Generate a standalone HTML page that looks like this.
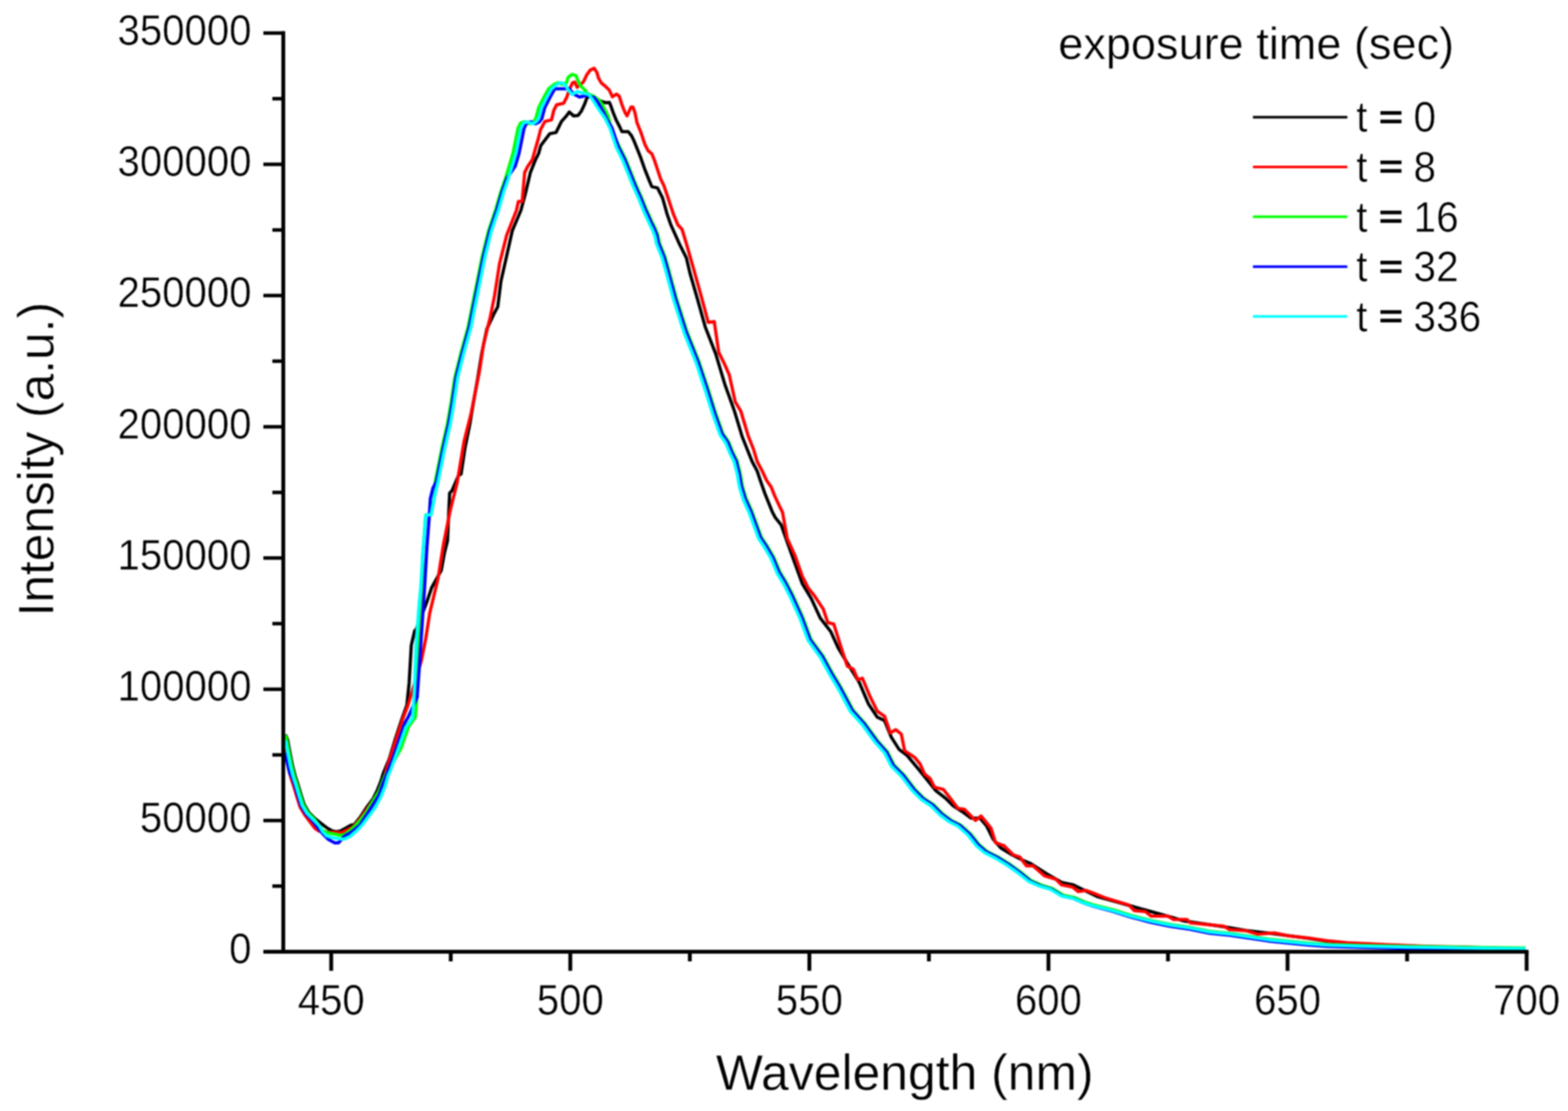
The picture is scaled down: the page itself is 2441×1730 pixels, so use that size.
<!DOCTYPE html>
<html><head><meta charset="utf-8"><title>Emission spectra</title>
<style>html,body{margin:0;padding:0;background:#fff;} svg{display:block;filter:blur(1px);}</style>
</head><body>
<svg width="2441" height="1730" viewBox="0 0 2441 1730">
<rect width="2441" height="1730" fill="#ffffff"/>
<g fill="none" stroke-width="5" stroke-linejoin="round" stroke-linecap="butt">
<path stroke="#000000" d="M444.5,1144.0 L447.7,1152.0 L450.6,1168.0 L455.5,1193.0 L459.7,1209.0 L463.7,1221.0 L468.6,1237.5 L473.5,1252.9 L480.9,1265.2 L490.1,1274.4 L499.3,1281.6 L505.4,1286.5 L511.6,1290.8 L517.7,1293.9 L523.9,1295.1 L530.0,1293.9 L539.3,1289.0 L545.4,1285.3 L551.6,1284.0 L555.9,1278.5 L560.3,1273.2 L570.5,1257.6 L580.7,1244.0 L587.4,1230.5 L592.8,1216.9 L596.9,1203.4 L605.9,1182.0 L615.0,1152.0 L624.8,1122.0 L633.4,1097.9 L636.9,1063.4 L640.3,1004.8 L645.5,982.4 L648.0,980.0 L664.6,937.0 L672.0,915.0 L687.0,888.0 L691.7,862.0 L696.7,842.0 L698.5,800.0 L700.0,767.7 L703.5,764.3 L714.0,740.0 L717.8,738.2 L723.7,698.8 L731.6,659.4 L737.0,627.0 L743.9,588.0 L750.0,550.0 L758.0,512.0 L768.5,489.7 L774.9,477.6 L779.8,438.2 L788.7,398.8 L797.5,359.4 L810.9,327.6 L818.8,298.0 L825.7,268.5 L833.6,248.8 L838.5,239.0 L842.0,226.4 L856.0,208.1 L865.5,206.4 L869.0,199.5 L874.1,189.1 L881.0,181.4 L886.2,174.5 L893.1,180.5 L900.0,179.7 L905.2,172.8 L910.3,161.6 L913.8,152.1 L920.0,149.0 L928.0,153.0 L936.0,158.0 L943.5,160.0 L948.5,159.4 L950.3,163.1 L954.6,175.4 L959.6,187.7 L964.5,197.0 L968.2,205.0 L978.0,205.0 L983.0,211.1 L986.6,218.5 L989.1,224.6 L997.0,244.3 L1003.9,264.0 L1011.8,283.7 L1014.7,290.6 L1023.6,292.6 L1031.5,308.4 L1038.4,333.0 L1044.3,350.0 L1057.4,379.3 L1068.5,401.5 L1074.0,425.0 L1086.1,466.8 L1097.8,508.9 L1114.2,551.0 L1128.2,597.8 L1143.3,640.0 L1149.3,659.7 L1155.2,679.4 L1163.0,699.1 L1170.9,718.8 L1178.8,733.6 L1183.7,748.4 L1190.6,768.1 L1198.5,787.8 L1202.5,797.6 L1207.0,806.0 L1216.1,817.4 L1230.2,857.2 L1248.9,908.7 L1262.9,932.0 L1277.0,962.5 L1293.3,983.5 L1305.0,1009.2 L1319.1,1032.6 L1337.8,1063.0 L1351.8,1095.8 L1365.8,1116.8 L1377.0,1122.0 L1387.6,1148.0 L1399.7,1167.0 L1411.7,1175.9 L1429.0,1196.6 L1442.8,1213.8 L1456.6,1231.0 L1472.0,1243.0 L1484.0,1255.0 L1498.0,1263.8 L1511.7,1274.0 L1525.5,1274.0 L1535.9,1286.2 L1546.2,1306.9 L1558.3,1320.7 L1575.5,1331.0 L1592.8,1339.7 L1604.8,1344.8 L1629.0,1360.3 L1653.1,1374.1 L1670.0,1377.6 L1708.0,1396.0 L1737.0,1404.0 L1783.0,1417.0 L1826.0,1429.0 L1843.0,1434.0 L1870.0,1438.0 L1905.0,1443.0 L1940.0,1449.0 L1983.0,1454.0 L2036.0,1461.0 L2066.5,1465.5 L2097.1,1468.5 L2158.1,1471.5 L2219.2,1474.0 L2280.3,1475.2 L2341.4,1476.8 L2375.0,1477.2"/>
<path stroke="#ff0000" d="M444.5,1156.0 L444.5,1172.0 L449.3,1197.0 L453.5,1213.0 L457.5,1225.0 L462.4,1241.5 L467.3,1256.9 L474.7,1269.2 L490.0,1289.6 L496.2,1293.9 L509.0,1295.5 L527.0,1296.4 L531.9,1296.4 L549.8,1287.7 L560.0,1276.0 L570.5,1261.0 L580.7,1247.0 L587.4,1237.3 L597.6,1213.6 L601.0,1200.0 L605.9,1184.1 L626.6,1120.3 L635.2,1097.9 L640.3,1080.7 L655.9,1029.0 L662.8,994.5 L669.0,954.7 L681.9,900.9 L690.5,847.0 L701.3,793.1 L711.7,751.7 L722.5,687.0 L733.3,644.0 L746.2,579.3 L752.7,536.2 L763.4,493.1 L770.0,460.0 L777.7,410.4 L788.8,366.1 L804.0,327.6 L807.0,313.8 L812.9,313.8 L816.8,268.5 L821.8,258.7 L828.7,248.8 L838.5,214.3 L841.4,202.0 L848.3,189.1 L858.6,186.6 L862.1,171.9 L866.4,163.3 L877.6,160.7 L882.8,150.3 L886.0,140.0 L891.4,128.8 L894.8,127.9 L898.5,136.0 L903.4,131.4 L908.0,128.0 L913.8,115.9 L919.0,109.0 L925.0,106.4 L929.3,113.0 L931.8,121.8 L936.2,129.2 L942.3,134.2 L948.5,140.3 L953.4,150.8 L959.6,146.5 L963.9,149.6 L968.2,163.1 L973.1,175.4 L976.2,180.3 L982.3,166.8 L985.4,166.8 L988.5,175.4 L991.6,190.8 L997.7,206.2 L999.0,209.9 L1003.9,224.6 L1008.8,234.5 L1014.7,239.4 L1018.7,249.3 L1023.6,264.0 L1028.5,278.8 L1033.4,288.7 L1038.4,303.4 L1043.3,318.2 L1048.2,333.0 L1055.2,350.0 L1061.8,357.2 L1068.5,379.3 L1079.0,416.0 L1093.2,466.8 L1102.5,501.9 L1111.9,500.7 L1118.9,548.7 L1128.2,567.4 L1135.3,583.7 L1144.6,625.8 L1153.2,640.0 L1159.1,659.7 L1165.0,679.4 L1172.9,699.1 L1178.8,718.8 L1186.7,733.6 L1193.6,748.4 L1200.5,758.2 L1206.4,773.0 L1213.3,787.8 L1218.2,797.6 L1225.5,838.5 L1237.2,864.2 L1248.9,897.0 L1258.2,915.7 L1267.6,927.4 L1281.6,948.4 L1288.7,969.5 L1298.0,971.8 L1309.7,1009.2 L1319.1,1037.3 L1328.4,1042.0 L1335.4,1058.4 L1342.5,1056.0 L1354.2,1084.1 L1365.8,1107.5 L1377.2,1115.5 L1385.9,1141.4 L1394.5,1136.2 L1403.1,1143.1 L1408.3,1169.0 L1423.8,1179.3 L1432.4,1189.7 L1439.3,1205.2 L1447.9,1212.1 L1454.8,1225.9 L1468.6,1229.3 L1480.7,1244.8 L1491.0,1258.6 L1501.4,1260.3 L1511.7,1270.7 L1518.6,1277.6 L1527.2,1270.7 L1542.8,1289.7 L1549.7,1312.1 L1563.4,1317.2 L1577.2,1331.0 L1587.6,1334.5 L1597.9,1348.3 L1608.3,1348.3 L1626.2,1363.8 L1643.6,1369.0 L1652.4,1377.7 L1669.8,1381.2 L1678.5,1388.2 L1690.8,1386.5 L1704.7,1391.7 L1722.2,1398.7 L1739.6,1403.9 L1757.1,1409.1 L1765.8,1417.9 L1783.2,1419.6 L1792.0,1426.6 L1818.2,1426.6 L1826.9,1431.8 L1847.8,1431.8 L1853.1,1437.1 L1870.5,1438.8 L1905.4,1442.3 L1914.1,1447.5 L1940.3,1449.3 L1957.8,1454.5 L1983.9,1452.8 L2005.4,1457.3 L2036.0,1460.4 L2066.5,1464.9 L2097.1,1468.0 L2158.1,1471.0 L2219.2,1473.5 L2280.3,1474.7 L2341.4,1476.5 L2375.0,1477.2"/>
<path stroke="#00ff00" d="M444.5,1145.0 L446.5,1152.5 L449.4,1168.5 L454.3,1193.5 L458.5,1209.5 L462.5,1221.5 L467.4,1238.0 L472.3,1253.4 L479.7,1265.7 L488.9,1274.9 L502.0,1293.0 L508.0,1296.0 L514.7,1297.6 L522.0,1299.0 L530.0,1301.0 L537.0,1299.0 L545.0,1293.0 L552.0,1287.0 L560.0,1278.0 L570.5,1264.4 L580.7,1247.4 L590.0,1232.0 L597.0,1213.0 L602.0,1203.0 L607.7,1195.0 L624.2,1165.4 L636.2,1130.9 L646.6,1117.1 L648.8,1088.5 L650.0,1061.5 L652.2,1003.1 L657.3,935.5 L659.5,913.5 L657.8,869.0 L662.5,805.0 L662.9,801.7 L671.1,801.7 L675.4,778.0 L677.4,750.0 L679.8,738.2 L687.7,698.8 L696.6,659.4 L702.0,627.6 L707.9,588.2 L717.7,548.8 L728.6,509.4 L736.4,470.0 L742.8,438.2 L750.7,398.8 L760.5,359.4 L772.0,325.0 L779.8,298.0 L786.7,278.4 L792.6,258.7 L798.5,239.0 L802.5,219.3 L806.4,199.6 L810.4,191.7 L816.3,189.7 L824.2,192.7 L830.1,189.7 L834.0,184.8 L838.6,167.6 L845.5,153.8 L854.1,138.3 L862.7,131.4 L868.8,128.8 L874.8,131.4 L882.0,128.8 L884.5,120.2 L890.5,115.9 L896.6,117.6 L900.0,126.2 L903.4,133.1 L910.3,140.0 L913.8,145.2 L925.0,150.3 L933.6,157.2 L937.9,163.3 L942.2,171.9 L946.6,180.5 L953.4,206.4 L964.1,228.1 L973.9,247.8 L981.8,267.5 L989.7,287.2 L998.5,306.9 L1006.4,326.6 L1015.3,346.3 L1020.2,356.1 L1024.2,366.5 L1026.4,377.8 L1035.3,400.0 L1040.5,418.5 L1053.2,465.3 L1069.6,516.7 L1088.3,563.5 L1102.3,605.6 L1114.0,643.1 L1125.7,675.8 L1134.1,687.8 L1140.5,703.5 L1147.4,717.3 L1152.3,737.0 L1155.7,756.7 L1161.6,776.4 L1170.5,796.1 L1185.5,837.0 L1194.5,850.5 L1204.5,867.5 L1214.4,891.1 L1224.2,907.4 L1234.1,926.5 L1243.9,948.3 L1249.5,960.5 L1262.7,996.0 L1281.5,1021.8 L1295.5,1047.5 L1309.5,1070.9 L1328.2,1106.0 L1347.0,1127.0 L1365.7,1152.8 L1381.7,1170.9 L1392.1,1191.6 L1407.6,1207.1 L1424.8,1229.5 L1438.6,1243.3 L1454.2,1253.7 L1467.9,1267.5 L1481.7,1277.8 L1495.5,1284.7 L1511.1,1298.5 L1524.8,1315.7 L1536.9,1326.1 L1554.2,1334.7 L1571.1,1345.1 L1588.0,1357.2 L1605.0,1371.0 L1620.8,1378.1 L1637.9,1383.4 L1655.1,1393.9 L1672.1,1397.4 L1689.3,1404.8 L1701.8,1408.8 L1731.8,1416.5 L1761.7,1425.7 L1791.8,1433.4 L1822.2,1439.5 L1852.7,1444.1 L1883.3,1450.2 L1913.8,1453.2 L1944.3,1457.8 L1974.9,1462.4 L2005.4,1465.5 L2036.0,1468.5 L2066.5,1470.7 L2127.6,1472.5 L2188.7,1473.7 L2249.8,1474.6 L2310.9,1475.5 L2375.0,1476.2"/>
<path stroke="#0000ff" d="M444.5,1172.0 L447.0,1187.0 L451.0,1204.0 L455.0,1211.0 L459.0,1223.0 L463.9,1239.5 L468.8,1254.9 L476.2,1267.2 L485.4,1276.4 L496.2,1291.0 L503.0,1299.0 L511.6,1307.4 L520.8,1312.4 L527.0,1312.4 L536.2,1302.0 L545.4,1297.0 L553.0,1291.0 L560.0,1285.0 L570.5,1269.0 L580.7,1253.0 L590.0,1238.0 L597.0,1218.0 L603.0,1203.0 L612.0,1180.0 L622.0,1150.0 L630.0,1126.0 L635.8,1116.0 L649.4,1085.8 L652.8,1038.4 L659.5,937.0 L661.0,915.0 L664.6,852.3 L668.0,808.3 L670.0,776.0 L674.0,760.0 L679.4,750.0 L681.8,738.2 L689.7,698.8 L698.6,659.4 L704.0,627.6 L709.9,588.2 L719.7,548.8 L730.6,509.4 L738.4,470.0 L744.8,438.2 L752.7,398.8 L762.5,359.4 L774.0,325.0 L781.8,298.0 L788.7,278.4 L802.1,258.7 L808.0,239.0 L812.0,219.3 L815.9,199.6 L819.9,191.7 L825.8,189.7 L833.7,192.7 L839.6,189.7 L843.5,184.8 L848.1,167.6 L855.0,153.8 L863.6,138.3 L874.1,138.3 L886.2,138.3 L890.5,143.4 L896.0,148.0 L902.6,151.2 L907.0,150.0 L912.1,148.6 L925.0,152.0 L931.0,160.0 L937.9,171.9 L946.6,189.1 L952.7,199.0 L962.6,228.6 L972.4,248.3 L980.3,268.0 L988.2,287.7 L997.0,307.4 L1004.9,327.1 L1013.8,346.8 L1018.7,356.6 L1022.7,367.0 L1024.9,378.3 L1033.8,400.5 L1039.0,419.0 L1051.7,465.8 L1068.1,517.2 L1086.8,564.0 L1100.8,606.1 L1112.5,643.6 L1124.2,676.3 L1132.6,688.3 L1139.0,704.0 L1145.9,717.8 L1150.8,737.5 L1154.2,757.2 L1160.1,776.9 L1169.0,796.6 L1184.0,837.5 L1193.0,851.0 L1203.0,868.0 L1212.9,891.6 L1222.7,907.9 L1232.6,927.0 L1242.4,948.8 L1248.0,961.0 L1261.2,996.5 L1280.0,1022.3 L1294.0,1048.0 L1308.0,1071.4 L1326.7,1106.5 L1345.5,1127.5 L1364.2,1153.3 L1380.2,1171.4 L1390.6,1192.1 L1406.1,1207.6 L1423.3,1230.0 L1437.1,1243.8 L1452.7,1254.2 L1466.4,1268.0 L1480.2,1278.3 L1494.0,1285.2 L1509.6,1299.0 L1523.3,1316.2 L1535.4,1326.6 L1552.7,1335.2 L1569.7,1345.8 L1586.7,1358.0 L1603.8,1372.0 L1619.7,1379.3 L1636.9,1384.7 L1654.2,1395.4 L1671.4,1399.1 L1688.7,1406.6 L1701.2,1410.8 L1731.3,1418.8 L1761.5,1428.3 L1791.7,1436.3 L1822.2,1442.5 L1852.7,1447.1 L1883.3,1453.2 L1913.8,1456.2 L1944.3,1460.8 L1974.9,1465.4 L2005.4,1468.5 L2036.0,1471.5 L2066.5,1473.7 L2127.6,1475.5 L2188.7,1476.7 L2249.8,1477.5 L2310.9,1477.5 L2375.0,1477.5"/>
<path stroke="#00ffff" d="M444.5,1153.0 L447.4,1169.0 L452.3,1194.0 L456.5,1210.0 L460.5,1222.0 L465.4,1238.5 L470.3,1253.9 L477.7,1266.2 L486.9,1275.4 L496.2,1284.7 L502.3,1295.0 L508.5,1301.5 L517.7,1304.4 L527.0,1306.2 L536.2,1306.5 L545.4,1302.0 L553.6,1295.0 L563.7,1284.7 L573.9,1271.1 L584.0,1257.6 L592.8,1240.7 L599.6,1223.7 L604.4,1206.8 L607.7,1200.0 L619.7,1166.9 L631.7,1132.4 L642.1,1118.6 L644.3,1090.0 L645.5,1063.0 L647.7,1004.6 L652.8,937.0 L655.0,915.0 L657.8,869.0 L662.5,805.0 L662.9,801.7 L671.1,801.7 L675.4,778.0 L681.9,750.0 L684.3,738.2 L692.2,698.8 L701.1,659.4 L706.5,627.6 L712.4,588.2 L722.2,548.8 L733.1,509.4 L740.9,470.0 L747.3,438.2 L755.2,398.8 L765.0,359.4 L776.5,325.0 L784.3,298.0 L791.2,278.4 L797.1,258.7 L803.0,239.0 L807.0,219.3 L810.9,199.6 L814.9,191.7 L820.8,189.7 L828.7,192.7 L834.6,189.7 L838.5,184.8 L843.1,167.6 L850.0,153.8 L858.6,138.3 L867.2,131.4 L873.3,128.8 L879.3,131.4 L884.5,140.0 L890.5,146.9 L899.1,142.6 L907.8,145.2 L916.4,146.9 L922.4,154.7 L929.3,165.9 L936.2,176.2 L942.2,184.8 L949.7,200.0 L959.6,229.6 L969.4,249.3 L977.3,269.0 L985.2,288.7 L994.0,308.4 L1001.9,328.1 L1010.8,347.8 L1015.7,357.6 L1019.7,368.0 L1021.9,379.3 L1030.8,401.5 L1036.0,420.0 L1048.7,466.8 L1065.1,518.2 L1083.8,565.0 L1097.8,607.1 L1109.5,644.6 L1121.2,677.3 L1129.6,689.3 L1136.0,705.0 L1142.9,718.8 L1147.8,738.5 L1151.2,758.2 L1157.1,777.9 L1166.0,797.6 L1181.0,838.5 L1190.0,852.0 L1200.0,869.0 L1209.9,892.6 L1219.7,908.9 L1229.6,928.0 L1239.4,949.8 L1245.0,962.0 L1258.2,997.5 L1277.0,1023.3 L1291.0,1049.0 L1305.0,1072.4 L1323.7,1107.5 L1342.5,1128.5 L1361.2,1154.3 L1377.2,1172.4 L1387.6,1193.1 L1403.1,1208.6 L1420.3,1231.0 L1434.1,1244.8 L1449.7,1255.2 L1463.4,1269.0 L1477.2,1279.3 L1491.0,1286.2 L1506.6,1300.0 L1520.3,1317.2 L1532.4,1327.6 L1549.7,1336.2 L1566.9,1346.6 L1584.1,1358.6 L1601.4,1372.4 L1617.5,1379.5 L1634.9,1384.7 L1652.4,1395.2 L1669.8,1398.7 L1687.3,1406.0 L1700.0,1410.0 L1730.5,1417.6 L1761.0,1426.8 L1791.6,1434.4 L1822.2,1440.5 L1852.7,1445.1 L1883.3,1451.2 L1913.8,1454.2 L1944.3,1458.8 L1974.9,1463.4 L2005.4,1466.5 L2036.0,1469.5 L2066.5,1471.7 L2127.6,1473.5 L2188.7,1474.7 L2249.8,1475.6 L2310.9,1476.5 L2375.0,1477.2"/>
</g>
<g stroke="#000" fill="none">
<line x1="441.0" y1="48.5" x2="441.0" y2="1485" stroke-width="6"/>
<line x1="410" y1="1482.0" x2="2379.6" y2="1482.0" stroke-width="6"/>
<line x1="410" y1="1482.0" x2="441.0" y2="1482.0" stroke-width="5.5"/>
<line x1="410" y1="1277.7" x2="441.0" y2="1277.7" stroke-width="5.5"/>
<line x1="410" y1="1073.3" x2="441.0" y2="1073.3" stroke-width="5.5"/>
<line x1="410" y1="868.9" x2="441.0" y2="868.9" stroke-width="5.5"/>
<line x1="410" y1="664.6" x2="441.0" y2="664.6" stroke-width="5.5"/>
<line x1="410" y1="460.2" x2="441.0" y2="460.2" stroke-width="5.5"/>
<line x1="410" y1="255.9" x2="441.0" y2="255.9" stroke-width="5.5"/>
<line x1="410" y1="51.5" x2="441.0" y2="51.5" stroke-width="5.5"/>
<line x1="424" y1="1379.8" x2="441.0" y2="1379.8" stroke-width="5.5"/>
<line x1="424" y1="1175.5" x2="441.0" y2="1175.5" stroke-width="5.5"/>
<line x1="424" y1="971.1" x2="441.0" y2="971.1" stroke-width="5.5"/>
<line x1="424" y1="766.8" x2="441.0" y2="766.8" stroke-width="5.5"/>
<line x1="424" y1="562.4" x2="441.0" y2="562.4" stroke-width="5.5"/>
<line x1="424" y1="358.1" x2="441.0" y2="358.1" stroke-width="5.5"/>
<line x1="424" y1="153.7" x2="441.0" y2="153.7" stroke-width="5.5"/>
<line x1="515.6" y1="1482.0" x2="515.6" y2="1511.7" stroke-width="6"/>
<line x1="887.8" y1="1482.0" x2="887.8" y2="1511.7" stroke-width="6"/>
<line x1="1260.0" y1="1482.0" x2="1260.0" y2="1511.7" stroke-width="6"/>
<line x1="1632.2" y1="1482.0" x2="1632.2" y2="1511.7" stroke-width="6"/>
<line x1="2004.4" y1="1482.0" x2="2004.4" y2="1511.7" stroke-width="6"/>
<line x1="2376.6" y1="1482.0" x2="2376.6" y2="1511.7" stroke-width="6"/>
<line x1="701.7" y1="1482.0" x2="701.7" y2="1497" stroke-width="6"/>
<line x1="1073.9" y1="1482.0" x2="1073.9" y2="1497" stroke-width="6"/>
<line x1="1446.1" y1="1482.0" x2="1446.1" y2="1497" stroke-width="6"/>
<line x1="1818.3" y1="1482.0" x2="1818.3" y2="1497" stroke-width="6"/>
<line x1="2190.5" y1="1482.0" x2="2190.5" y2="1497" stroke-width="6"/>
</g>
<g font-family="'Liberation Sans', Arial, sans-serif" font-size="62.5" fill="#000" stroke="#fff" stroke-width="0.6">
<text transform="translate(391.5,1500.0) scale(1,1.07)" text-anchor="end">0</text>
<text transform="translate(391.5,1295.7) scale(1,1.07)" text-anchor="end">50000</text>
<text transform="translate(391.5,1091.3) scale(1,1.07)" text-anchor="end">100000</text>
<text transform="translate(391.5,886.9) scale(1,1.07)" text-anchor="end">150000</text>
<text transform="translate(391.5,682.6) scale(1,1.07)" text-anchor="end">200000</text>
<text transform="translate(391.5,478.2) scale(1,1.07)" text-anchor="end">250000</text>
<text transform="translate(391.5,273.9) scale(1,1.07)" text-anchor="end">300000</text>
<text transform="translate(391.5,69.5) scale(1,1.07)" text-anchor="end">350000</text>
<text transform="translate(515.6,1579.5) scale(1,1.07)" text-anchor="middle">450</text>
<text transform="translate(887.8,1579.5) scale(1,1.07)" text-anchor="middle">500</text>
<text transform="translate(1260.0,1579.5) scale(1,1.07)" text-anchor="middle">550</text>
<text transform="translate(1632.2,1579.5) scale(1,1.07)" text-anchor="middle">600</text>
<text transform="translate(2004.4,1579.5) scale(1,1.07)" text-anchor="middle">650</text>
<text transform="translate(2376.6,1579.5) scale(1,1.07)" text-anchor="middle">700</text>
</g>
<text font-family="'Liberation Sans', Arial, sans-serif" font-size="77.6" stroke="#fff" stroke-width="0.6" x="1114.5" y="1697.4">Wavelength (nm)</text>
<text font-family="'Liberation Sans', Arial, sans-serif" font-size="77.3" stroke="#fff" stroke-width="0.6" transform="translate(83.3,960) rotate(-90)" x="0" y="0">Intensity (a.u.)</text>
<text font-family="'Liberation Sans', Arial, sans-serif" font-size="70.2" stroke="#fff" stroke-width="0.6" x="1647.4" y="91.9">exposure time (sec)</text>
<line x1="1950.5" y1="182.4" x2="2097.5" y2="182.4" stroke="#000000" stroke-width="4"/>
<text font-family="'Liberation Sans', Arial, sans-serif" font-size="63" stroke="#fff" stroke-width="0.6" transform="translate(2111.3,205.3) scale(1,1.07)">t</text>
<text font-family="'Liberation Sans', Arial, sans-serif" font-size="63" stroke="#000" stroke-width="2.2" transform="translate(2165.3,180.8) scale(1,0.864)" text-anchor="middle" dominant-baseline="central">=</text>
<text font-family="'Liberation Sans', Arial, sans-serif" font-size="63" stroke="#fff" stroke-width="0.6" transform="translate(2200.6,205.3) scale(1,1.07)">0</text>
<line x1="1950.5" y1="260.0" x2="2097.5" y2="260.0" stroke="#ff0000" stroke-width="4"/>
<text font-family="'Liberation Sans', Arial, sans-serif" font-size="63" stroke="#fff" stroke-width="0.6" transform="translate(2111.3,282.9) scale(1,1.07)">t</text>
<text font-family="'Liberation Sans', Arial, sans-serif" font-size="63" stroke="#000" stroke-width="2.2" transform="translate(2165.3,258.4) scale(1,0.864)" text-anchor="middle" dominant-baseline="central">=</text>
<text font-family="'Liberation Sans', Arial, sans-serif" font-size="63" stroke="#fff" stroke-width="0.6" transform="translate(2200.6,282.9) scale(1,1.07)">8</text>
<line x1="1950.5" y1="337.6" x2="2097.5" y2="337.6" stroke="#00ff00" stroke-width="4"/>
<text font-family="'Liberation Sans', Arial, sans-serif" font-size="63" stroke="#fff" stroke-width="0.6" transform="translate(2111.3,360.5) scale(1,1.07)">t</text>
<text font-family="'Liberation Sans', Arial, sans-serif" font-size="63" stroke="#000" stroke-width="2.2" transform="translate(2165.3,336.0) scale(1,0.864)" text-anchor="middle" dominant-baseline="central">=</text>
<text font-family="'Liberation Sans', Arial, sans-serif" font-size="63" stroke="#fff" stroke-width="0.6" transform="translate(2200.6,360.5) scale(1,1.07)">16</text>
<line x1="1950.5" y1="415.2" x2="2097.5" y2="415.2" stroke="#0000ff" stroke-width="4"/>
<text font-family="'Liberation Sans', Arial, sans-serif" font-size="63" stroke="#fff" stroke-width="0.6" transform="translate(2111.3,438.1) scale(1,1.07)">t</text>
<text font-family="'Liberation Sans', Arial, sans-serif" font-size="63" stroke="#000" stroke-width="2.2" transform="translate(2165.3,413.6) scale(1,0.864)" text-anchor="middle" dominant-baseline="central">=</text>
<text font-family="'Liberation Sans', Arial, sans-serif" font-size="63" stroke="#fff" stroke-width="0.6" transform="translate(2200.6,438.1) scale(1,1.07)">32</text>
<line x1="1950.5" y1="492.8" x2="2097.5" y2="492.8" stroke="#00ffff" stroke-width="4"/>
<text font-family="'Liberation Sans', Arial, sans-serif" font-size="63" stroke="#fff" stroke-width="0.6" transform="translate(2111.3,515.7) scale(1,1.07)">t</text>
<text font-family="'Liberation Sans', Arial, sans-serif" font-size="63" stroke="#000" stroke-width="2.2" transform="translate(2165.3,491.2) scale(1,0.864)" text-anchor="middle" dominant-baseline="central">=</text>
<text font-family="'Liberation Sans', Arial, sans-serif" font-size="63" stroke="#fff" stroke-width="0.6" transform="translate(2200.6,515.7) scale(1,1.07)">336</text>
</svg>
</body></html>
